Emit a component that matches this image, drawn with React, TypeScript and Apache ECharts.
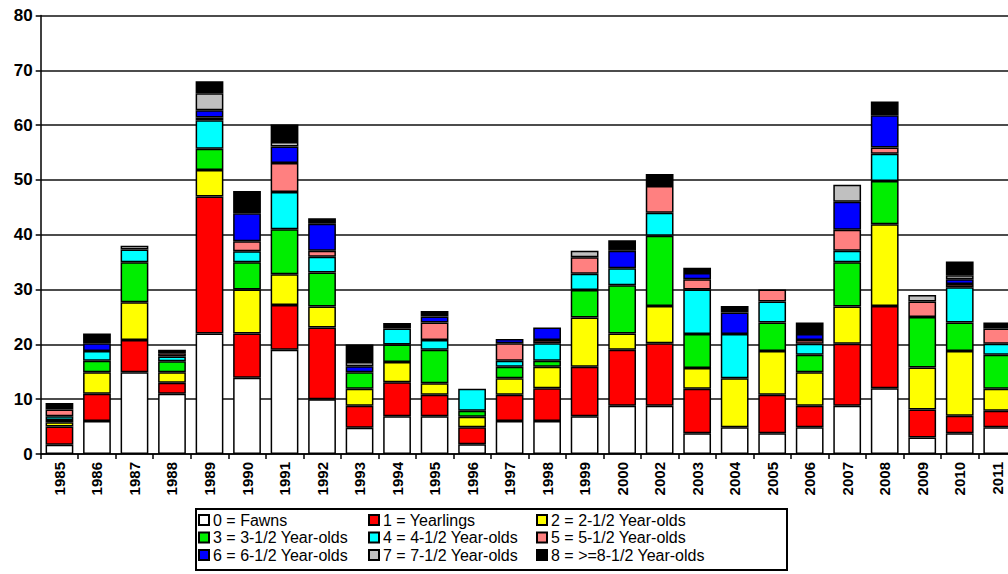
import React, { useEffect, useRef } from "react";
import * as echarts from "echarts";

const categories = [
  "1985", "1986", "1987", "1988", "1989", "1990", "1991", "1992", "1993", "1994",
  "1995", "1996", "1997", "1998", "1999", "2000", "2002", "2003", "2004", "2005",
  "2006", "2007", "2008", "2009", "2010", "2011",
];

const fawns = [1.7, 6, 14.9, 11, 22, 13.9, 19, 10, 4.8, 6.9, 6.9, 1.8, 6, 6, 6.9, 8.8, 8.8, 3.8, 4.9, 3.8, 4.9, 8.8, 12, 3, 3.8, 4.9];
const yearlings = [3.3, 5, 5.9, 2, 25, 8.1, 8.2, 13.1, 4, 6.2, 3.9, 3.1, 4.8, 6, 9, 10.2, 11.4, 8.1, 0, 7, 3.9, 11.3, 15, 5.1, 3.2, 3];
const y2 = [0.8, 3.9, 6.9, 1.9, 4.8, 8, 5.6, 3.8, 3.1, 3.7, 2.1, 1.9, 3, 3.9, 9, 3, 6.8, 3.8, 8.9, 8, 6.1, 6.8, 14.9, 7.7, 11.8, 4];
const y3 = [0.4, 2.1, 7.3, 2, 3.9, 5, 8.2, 6.2, 3, 3.2, 6.1, 1.1, 2.1, 1.1, 5, 8.8, 12.8, 6.2, 0, 5.2, 3.2, 8.1, 7.9, 9.2, 5.2, 6.2];
const y4 = [0.7, 1.8, 2.3, 0.9, 5.2, 2, 6.8, 2.9, 0, 2.9, 1.8, 4, 1.1, 3.2, 3, 3.1, 4.2, 8.1, 8.1, 3.8, 2, 2.1, 5, 0, 6.4, 2];
const y5 = [1.2, 0, 0, 0.6, 0.5, 1.8, 5.3, 1.1, 0, 0, 3.2, 0, 3.2, 0.6, 3, 0, 4.9, 1.9, 0, 2.2, 0.7, 3.8, 1.1, 2.8, 0.6, 2.8];
const y6 = [0, 1.4, 0, 0, 1.3, 5.1, 3, 4.9, 1.1, 0, 1.1, 0, 0.8, 2.3, 0, 3.2, 0, 1.1, 3.9, 0, 1.1, 5.1, 5.9, 0, 0.9, 0];
const y7 = [0, 0, 0.7, 0, 3.1, 0, 0.8, 0, 0.8, 0, 0, 0, 0, 0, 1.2, 0, 0, 0, 0, 0, 0, 3.1, 0, 1.2, 0.7, 0];
const y8 = [1.2, 1.8, 0, 0.6, 2.2, 4.1, 3.2, 1, 3.2, 1, 1, 0, 0, 0, 0, 1.9, 2.2, 1, 1.2, 0, 2.1, 0, 2.5, 0, 2.5, 1.1];

const seriesNames = [
  "0 = Fawns",
  "1 = Yearlings",
  "2 = 2-1/2 Year-olds",
  "3 = 3-1/2 Year-olds",
  "4 = 4-1/2 Year-olds",
  "5 = 5-1/2 Year-olds",
  "6 = 6-1/2 Year-olds",
  "7 = 7-1/2 Year-olds",
  "8 = >=8-1/2 Year-olds",
];
const seriesData = [fawns, yearlings, y2, y3, y4, y5, y6, y7, y8];
const seriesColors = ["#FFFFFF", "#FF0000", "#FFFF00", "#00EE00", "#00FFFF", "#FF8080", "#0000FF", "#C0C0C0", "#000000"];

const FONT = "'Liberation Sans', Arial, sans-serif";

export default function App() {
  const ref = useRef<HTMLDivElement>(null);

  useEffect(() => {
    document.body.style.margin = "0";
    document.body.style.overflow = "hidden";
    if (!ref.current) return;
    const chart = echarts.init(ref.current, undefined, { renderer: "svg" });

    const series = seriesNames.map((name, i) => ({
      name,
      type: "bar",
      stack: "total",
      barCategoryGap: "26%",
      itemStyle: { color: seriesColors[i], borderColor: "#000", borderWidth: 1.5 },
      data: seriesData[i].map((v) => (v === 0 ? "-" : v)),
    }));

    const legendCols = [
      [0, 3, 6],
      [1, 4, 7],
      [2, 5, 8],
    ];
    const legendLefts = [198, 368, 536];

    const legends = legendCols.map((col, k) => ({
      orient: "vertical",
      left: legendLefts[k],
      top: 512,
      itemWidth: 10,
      itemHeight: 10,
      itemGap: 1.5,
      padding: 0,
      icon: "rect",
      selectedMode: false,
      textStyle: { fontSize: 16, fontFamily: FONT, color: "#000", padding: [0, 0, 0, -1] },
      data: col.map((i) => seriesNames[i]),
    }));

    chart.setOption({
      animation: false,
      backgroundColor: "#fff",
      grid: { left: 40.7, right: 0, top: 15.5, bottom: 120, containLabel: false },
      xAxis: {
        type: "category",
        data: categories,
        axisLine: { lineStyle: { color: "#000", width: 1.5 } },
        axisTick: { show: true, length: 5, lineStyle: { color: "#000", width: 1.5 } },
        axisLabel: {
          rotate: 90,
          interval: 0,
          margin: 8,
          fontSize: 15,
          fontWeight: "bold",
          fontFamily: FONT,
          color: "#000",
        },
      },
      yAxis: {
        type: "value",
        min: 0,
        max: 80,
        interval: 10,
        axisLine: { show: true, lineStyle: { color: "#000", width: 1.5 } },
        axisTick: { show: true, length: 5, lineStyle: { color: "#000", width: 1.5 } },
        axisLabel: {
          margin: 8,
          fontSize: 17,
          fontWeight: "bold",
          fontFamily: FONT,
          color: "#000",
        },
        splitLine: { show: true, lineStyle: { color: "#111", width: 1.5 } },
      },
      legend: legends,
      graphic: [
        {
          type: "rect",
          shape: { x: 196, y: 509, width: 591, height: 61 },
          style: { fill: "none", stroke: "#000", lineWidth: 2 },
          z: 100,
        },
      ],
      series,
    });

    return () => chart.dispose();
  }, []);

  return <div ref={ref} style={{ width: 1016, height: 574 }} />;
}
